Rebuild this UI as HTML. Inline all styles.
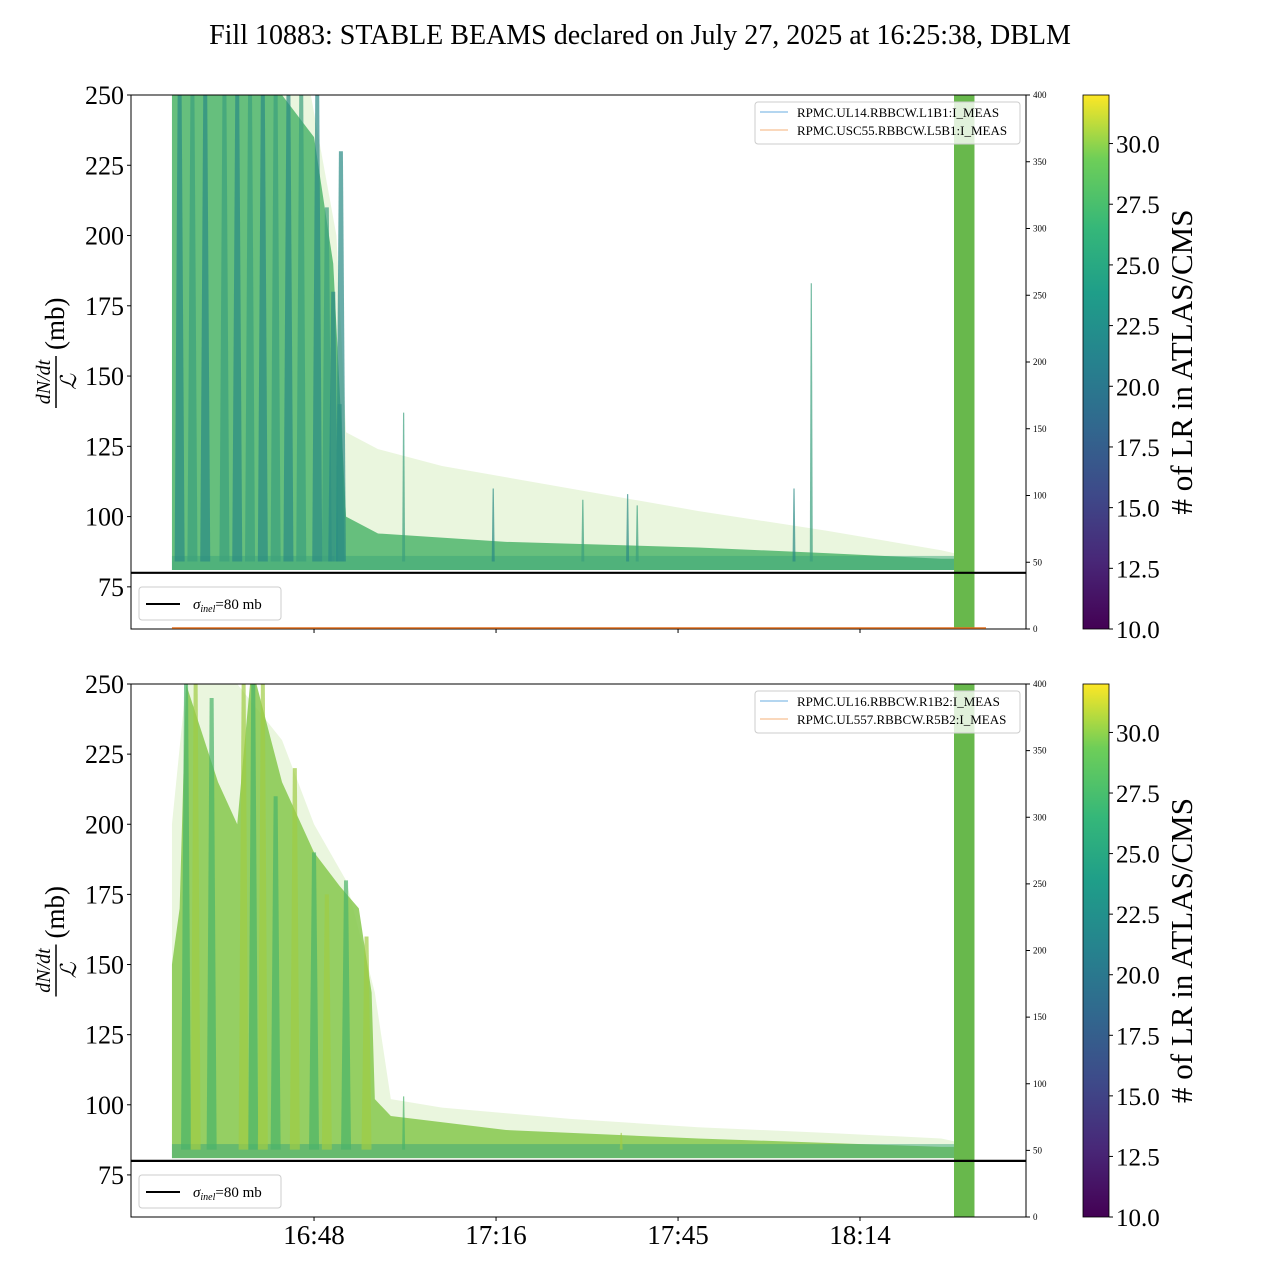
<!DOCTYPE html>
<html><head><meta charset="utf-8"><style>
body{margin:0;background:#fff;}
svg{display:block;font-family:"Liberation Serif",serif;}
</style></head><body>
<svg id="c" width="1280" height="1280" viewBox="0 0 1280 1280">
<defs>
<linearGradient id="vir" x1="0" y1="1" x2="0" y2="0">
<stop offset="0" stop-color="#440154"/><stop offset="0.13" stop-color="#482878"/><stop offset="0.25" stop-color="#3e4989"/><stop offset="0.38" stop-color="#31688e"/><stop offset="0.5" stop-color="#26828e"/><stop offset="0.63" stop-color="#1f9e89"/><stop offset="0.75" stop-color="#35b779"/><stop offset="0.88" stop-color="#6ece58"/><stop offset="1" stop-color="#fde725"/>
</linearGradient>
</defs>
<text x="640" y="44" text-anchor="middle" font-size="28">Fill 10883: STABLE BEAMS declared on July 27, 2025 at 16:25:38, DBLM</text>
</svg>
<script>
// x in minutes relative to 16:48
const xTickVals=[0,28.44,56.88,85.31];
const xTickLabels=["16:48","17:16","17:45","18:14"];
const yTicks=[75,100,125,150,175,200,225,250];
const rTicks=[0,50,100,150,200,250,300,350,400];
const cbTicks=[10,12.5,15,17.5,20,22.5,25,27.5,30];
const sigma=80;
// panel 1 envelopes
const p1HaloT=[-22.2,-0.5,3.5,5,10,20,40,60,80,98,100];
const p1HaloV=[250,250,200,130,124,118,110,102,95,88,87];
const p1CoreT=[-22.2,-20,-15,-10,-5,0,3,5,10,30,60,80,98,100];
const p1CoreV=[250,250,250,250,250,235,190,100,94,91,89,87,85,85];
const p1SpikeT=[-21,-19,-17,-14,-12,-10,-8,-6,-4,-2,0.5,2,3,4,4.2,14,28,42,49,50.5,75,77.7];
const p1SpikeV=[250,250,250,250,250,250,250,250,250,250,250,210,180,140,230,137,110,106,108,104,110,183];
// panel 2 envelopes
const p2HaloT=[-22.2,-20,-12,-5,0,5,9.5,12,20,40,60,80,98,100];
const p2HaloV=[200,250,250,230,200,180,140,102,99,95,92,90,88,87];
const p2CoreT=[-22.2,-21,-20,-15,-12,-10,-9,-5,0,4,7,9,9.5,12,30,60,98,100];
const p2CoreV=[150,170,250,215,200,250,250,215,190,178,170,140,102,96,91,88,85,85];
const p2SpikeT=[-20,-18.5,-16,-11,-9.5,-8,-6,-3,0,2,5,8.2,14,48];
const p2SpikeV=[250,250,245,250,250,250,210,220,190,175,180,160,103,90];
const bandT=[100,103.2];

const svg=document.getElementById('c');
const NS='http://www.w3.org/2000/svg';
function mk(tag,attrs,parent){const e=document.createElementNS(NS,tag);for(const k in attrs)e.setAttribute(k,attrs[k]);(parent||svg).appendChild(e);return e;}
const X0=131,X1=1026,T0=-28.6,T1=111.25;
function xs(t){return X0+(t-T0)/(T1-T0)*(X1-X0);}

function panel(top,bot,haloT,haloV,coreT,coreV,spT,spV,legend,idx,coreCol,spCols){
  const ys=v=>bot-(v-60)/(250-60)*(bot-top);
  const g=mk('g',{});
  
  
  const clip=mk('clipPath',{id:'cl'+idx},g);mk('rect',{x:X0,y:top,width:X1-X0,height:bot-top},clip);
  const pg=mk('g',{'clip-path':'url(#cl'+idx+')'},g);
  let d='M'+xs(haloT[0])+','+ys(81);
  haloT.forEach((t,i)=>d+=' L'+xs(t)+','+ys(haloV[i]));
  d+=' L'+xs(haloT[haloT.length-1])+','+ys(81)+'Z';
  const h=mk('path',{d:d,fill:'#c4e6a0','fill-opacity':0.35},pg);
  
  
  d='M'+xs(coreT[0])+','+ys(81);
  coreT.forEach((t,i)=>d+=' L'+xs(t)+','+ys(coreV[i]));
  d+=' L'+xs(coreT[coreT.length-1])+','+ys(81)+'Z';
  const c=mk('path',{d:d,fill:coreCol,'fill-opacity':0.85},pg);
  
  
  const lb=mk('rect',{x:xs(coreT[0]),y:ys(86),width:xs(coreT[coreT.length-1])-xs(coreT[0]),height:ys(81)-ys(86),fill:'#3aa57a','fill-opacity':0.5},pg);
  
  
  spT.forEach((t,i)=>{
    const w=t<10?5:1.5;
    const p=mk('path',{d:'M'+(xs(t)-w)+','+ys(84)+' L'+(xs(t)-w*0.4)+','+ys(spV[i])+' L'+(xs(t)+w*0.4)+','+ys(spV[i])+' L'+(xs(t)+w)+','+ys(84)+'Z',fill:spCols[i%2],'fill-opacity':0.7},pg);
    
    
  });
  const b=mk('rect',{x:xs(bandT[0]),y:top,width:xs(bandT[1])-xs(bandT[0]),height:bot-top,fill:'#68b84c'},pg);
  
  
  const sl=mk('line',{x1:X0,x2:X1,y1:ys(sigma),y2:ys(sigma),stroke:'#000','stroke-width':2.2},g);
  
  
  const fr=mk('rect',{x:X0,y:top,width:X1-X0,height:bot-top,fill:'none',stroke:'#000','stroke-width':1},g);
  
  
  yTicks.forEach(v=>{
    mk('line',{x1:X0-4,x2:X0,y1:ys(v),y2:ys(v),stroke:'#000'},g);
    const t=mk('text',{x:X0-7,y:ys(v)+9,'text-anchor':'end','font-size':26},g);t.textContent=v;
    
    
  });
  rTicks.forEach(v=>{
    const y=bot-v/400*(bot-top);
    mk('line',{x1:X1,x2:X1+4,y1:y,y2:y,stroke:'#000'},g);
    const t=mk('text',{x:X1+7,y:y+3,'font-size':9},g);t.textContent=v;
    
    
  });
  xTickVals.forEach((v,i)=>{
    mk('line',{x1:xs(v),x2:xs(v),y1:bot,y2:bot+4,stroke:'#000'},g);
    if(idx===2){const t=mk('text',{x:xs(v),y:bot+27,'text-anchor':'middle','font-size':27},g);t.textContent=xTickLabels[i];
    
    }
  });
  const yl=mk('g',{transform:'translate(60,'+((top+bot)/2)+') rotate(-90)'},g);
  
  
  let t=mk('text',{x:-20,y:-10,'text-anchor':'middle','font-size':20,'font-style':'italic'},yl);t.textContent='dN/dt';
  mk('line',{x1:-46,x2:6,y1:-4,y2:-4,stroke:'#000','stroke-width':1.5},yl);
  t=mk('text',{x:-20,y:16,'text-anchor':'middle','font-size':22,'font-style':'italic'},yl);t.textContent='ℒ';
  t=mk('text',{x:12,y:4,'font-size':27},yl);t.textContent='(mb)';
  const lg=mk('g',{},g);
  
  
  mk('rect',{x:139,y:bot-42,width:142,height:33,rx:3,fill:'#fff',stroke:'#ccc'},lg);
  mk('line',{x1:146,x2:180,y1:bot-25,y2:bot-25,stroke:'#000','stroke-width':2},lg);
  t=mk('text',{x:193,y:bot-20,'font-size':15},lg);t.innerHTML='<tspan font-style="italic">σ</tspan><tspan font-style="italic" font-size="10" dy="3">inel</tspan><tspan dy="-3">=80 mb</tspan>';
  const sg=mk('g',{},g);
  
  
  mk('rect',{x:755,y:top+7,width:265,height:42,rx:3,fill:'#fff','fill-opacity':0.8,stroke:'#ccc'},sg);
  mk('line',{x1:760,x2:788,y1:top+17,y2:top+17,stroke:'#6aaee0'},sg);
  mk('line',{x1:760,x2:788,y1:top+35,y2:top+35,stroke:'#f4b27a'},sg);
  t=mk('text',{x:797,y:top+22,'font-size':13},sg);t.textContent=legend[0];
  t=mk('text',{x:797,y:top+40,'font-size':13},sg);t.textContent=legend[1];
  if(idx===1){mk('line',{x1:xs(-22.2),x2:xs(105),y1:bot-1,y2:bot-1,stroke:'#e07020','stroke-width':1.5},g);}
  const cb=mk('g',{},g);
  
  
  mk('rect',{x:1083,y:top,width:26,height:bot-top,fill:'url(#vir)',stroke:'#000','stroke-width':0.8},cb);
  const cy=v=>bot-(v-10)/(32-10)*(bot-top);
  cbTicks.forEach(v=>{
    mk('line',{x1:1109,x2:1113,y1:cy(v),y2:cy(v),stroke:'#000'},cb);
    const tt=mk('text',{x:1116,y:cy(v)+9,'font-size':25},cb);tt.textContent=v.toFixed(1);
  });
  t=mk('text',{x:0,y:0,'font-size':31,transform:'translate(1192,'+((top+bot)/2)+') rotate(-90)','text-anchor':'middle'},cb);t.textContent='# of LR in ATLAS/CMS';
}
panel(95,629,p1HaloT,p1HaloV,p1CoreT,p1CoreV,p1SpikeT,p1SpikeV,['RPMC.UL14.RBBCW.L1B1:I_MEAS','RPMC.USC55.RBBCW.L5B1:I_MEAS'],1,'#4fb56c',['#2a8a84','#3a9f7e']);
panel(684,1217,p2HaloT,p2HaloV,p2CoreT,p2CoreV,p2SpikeT,p2SpikeV,['RPMC.UL16.RBBCW.R1B2:I_MEAS','RPMC.UL557.RBBCW.R5B2:I_MEAS'],2,'#86c84e',['#4ab36a','#9fcc45']);
</script>
</body></html>
